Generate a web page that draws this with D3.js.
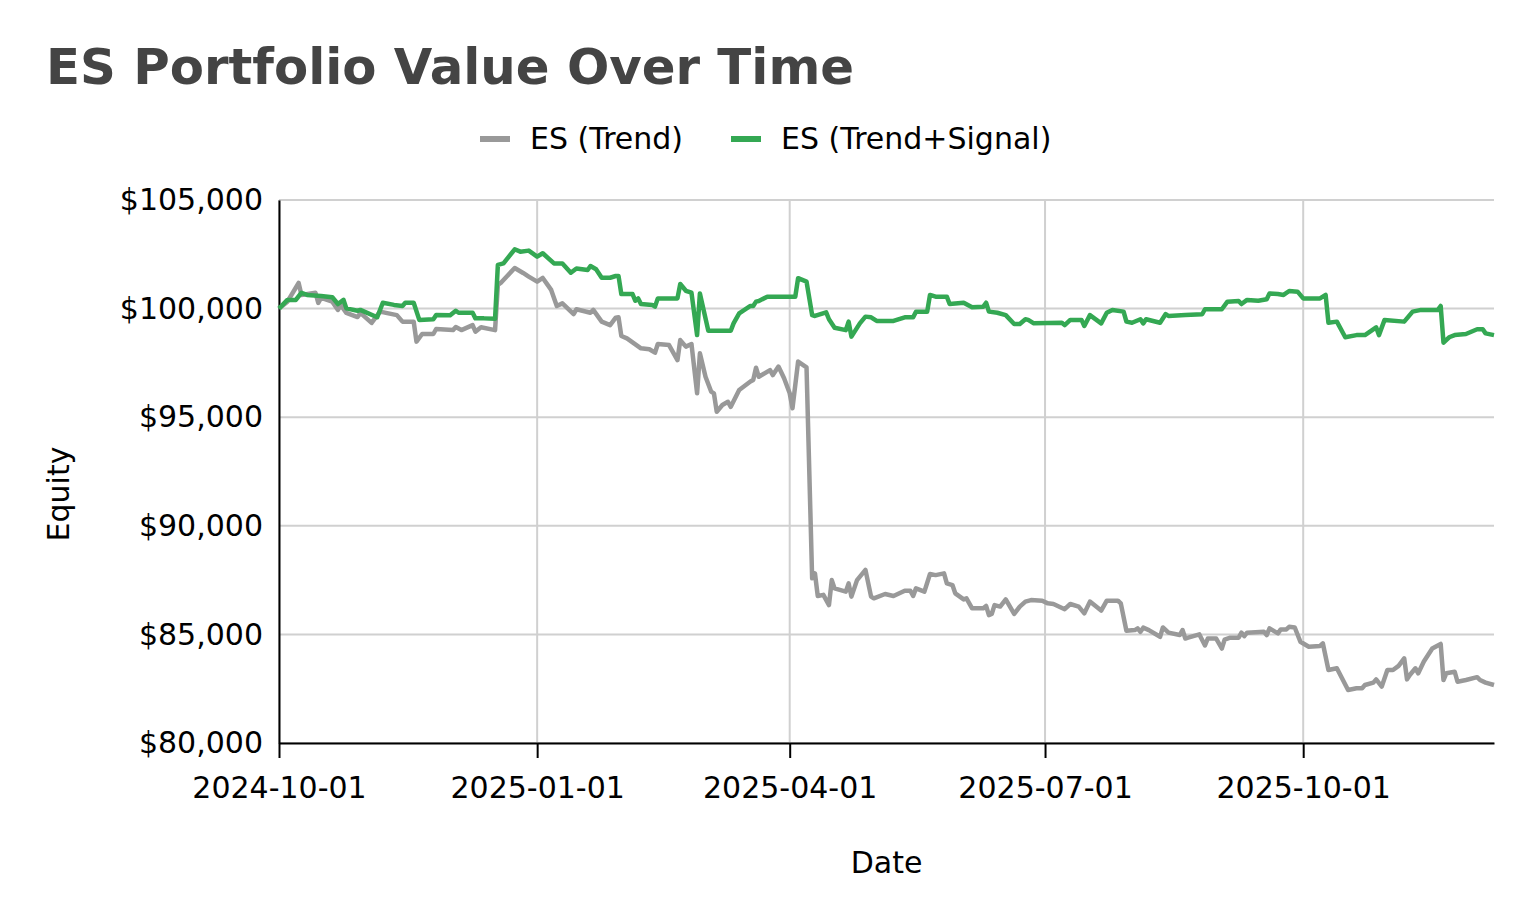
<!DOCTYPE html>
<html>
<head>
<meta charset="utf-8">
<script src="https://cdn.jsdelivr.net/npm/d3@7"></script>
<style>
	body { margin: 0; background: #fff; }
	svg { display: block; font-family: Verdana, "DejaVu Sans", sans-serif; }
</style>
</head>
<body>
<div id="chart"></div>
<script>
// ES (Trend) - dates and equity
const trendDates = [
	"2024-10-01","2024-10-04","2024-10-08","2024-10-09","2024-10-14","2024-10-15","2024-10-16","2024-10-20","2024-10-22","2024-10-23","2024-10-25","2024-10-29","2024-10-30",
	"2024-11-03","2024-11-06","2024-11-12","2024-11-14","2024-11-18","2024-11-19","2024-11-21","2024-11-25","2024-11-26",
	"2024-12-02","2024-12-03","2024-12-05","2024-12-09","2024-12-10","2024-12-12","2024-12-17","2024-12-18","2024-12-19","2024-12-24","2024-12-27","2024-12-29",
	"2025-01-01","2025-01-03","2025-01-06","2025-01-08","2025-01-10","2025-01-14","2025-01-15","2025-01-20","2025-01-21","2025-01-24","2025-01-27","2025-01-29","2025-01-30","2025-01-31",
	"2025-02-02","2025-02-07","2025-02-10","2025-02-12","2025-02-13","2025-02-17","2025-02-20","2025-02-21","2025-02-23","2025-02-25","2025-02-27","2025-02-28",
	"2025-03-02","2025-03-04","2025-03-05","2025-03-06","2025-03-08","2025-03-10","2025-03-11","2025-03-14","2025-03-18","2025-03-19","2025-03-20","2025-03-21","2025-03-25","2025-03-26","2025-03-28","2025-03-30",
	"2025-04-01","2025-04-02","2025-04-04","2025-04-07","2025-04-09","2025-04-10","2025-04-11","2025-04-13","2025-04-15","2025-04-16","2025-04-17","2025-04-21","2025-04-22","2025-04-23","2025-04-25","2025-04-28","2025-04-30",
	"2025-05-01","2025-05-05","2025-05-08","2025-05-12","2025-05-14","2025-05-15","2025-05-16","2025-05-19","2025-05-21","2025-05-23","2025-05-26","2025-05-27","2025-05-29","2025-05-30",
	"2025-06-02","2025-06-03","2025-06-05","2025-06-09","2025-06-10","2025-06-11","2025-06-12","2025-06-13","2025-06-15","2025-06-17","2025-06-20","2025-06-22","2025-06-24","2025-06-26","2025-06-30",
	"2025-07-02","2025-07-04","2025-07-08","2025-07-10","2025-07-13","2025-07-15","2025-07-17","2025-07-21","2025-07-23","2025-07-27","2025-07-28","2025-07-30",
	"2025-08-02","2025-08-03","2025-08-04","2025-08-05","2025-08-07","2025-08-11","2025-08-12","2025-08-14","2025-08-18","2025-08-19","2025-08-20","2025-08-21","2025-08-25","2025-08-27","2025-08-28","2025-08-31",
	"2025-09-02","2025-09-03","2025-09-05","2025-09-08","2025-09-09","2025-09-10","2025-09-11","2025-09-17","2025-09-18","2025-09-19","2025-09-22","2025-09-23","2025-09-25","2025-09-26","2025-09-28","2025-09-30",
	"2025-10-03","2025-10-07","2025-10-08","2025-10-10","2025-10-13","2025-10-17","2025-10-20","2025-10-22","2025-10-23","2025-10-26","2025-10-27","2025-10-29","2025-10-31",
	"2025-11-02","2025-11-04","2025-11-06","2025-11-07","2025-11-08","2025-11-10","2025-11-11","2025-11-13","2025-11-16","2025-11-19","2025-11-20","2025-11-21","2025-11-24","2025-11-25","2025-11-28",
	"2025-12-02","2025-12-03","2025-12-05","2025-12-08"
];
const trendValues = [
	100000,100320,101180,100630,100730,100260,100490,100320,99940,100170,99800,99610,99800,
	99340,99860,99700,99400,99400,98480,98830,98830,99060,
	99010,99150,99010,99240,98940,99140,99010,101090,101180,101870,101640,101470,
	101240,101410,100860,100120,100240,99750,99970,99810,99940,99400,99240,99580,99600,98740,
	98630,98170,98130,97970,98370,98320,97630,98550,98250,98370,96100,97940,
	96860,96180,96100,95250,95560,95710,95480,96250,96640,96710,97280,96860,97170,96940,97330,96790,
	96100,95410,97560,97290,87580,87810,86770,86820,86350,87500,87120,86970,87350,86740,87500,87970,86740,
	86660,86860,86770,87010,87010,86770,87120,86970,87780,87730,87810,87350,87270,86890,
	86610,86660,86200,86200,86310,85890,85940,86350,86280,86610,85940,86280,86510,86580,86550,
	86430,86400,86160,86400,86280,85970,86510,86100,86550,86550,86430,85170,
	85200,85280,85120,85310,85200,84890,85320,85080,84970,85200,84810,84850,85000,84490,84810,84810,
	84350,84760,84850,84850,85080,84920,85080,85120,84970,85280,85050,85230,85230,85350,85320,84660,
	84430,84470,84590,83360,83440,82440,82520,82520,82670,82780,82930,82600,83360,
	83360,83550,83900,82930,83130,83440,83210,83750,84350,84560,82900,83210,83280,82820,82900,
	83030,82900,82780,82670
];

// ES (Trend+Signal) - dates and equity
const signalDates = [
	"2024-10-01","2024-10-04","2024-10-07","2024-10-09","2024-10-11","2024-10-16","2024-10-20","2024-10-22","2024-10-24","2024-10-25","2024-10-29","2024-10-30",
	"2024-11-05","2024-11-07","2024-11-11","2024-11-14","2024-11-15","2024-11-18","2024-11-20","2024-11-25","2024-11-26",
	"2024-12-01","2024-12-03","2024-12-04","2024-12-09","2024-12-10","2024-12-13","2024-12-17","2024-12-18","2024-12-20","2024-12-24","2024-12-26","2024-12-29",
	"2025-01-01","2025-01-03","2025-01-07","2025-01-10","2025-01-13","2025-01-15","2025-01-19","2025-01-20","2025-01-22","2025-01-24","2025-01-27","2025-01-29","2025-01-30","2025-01-31",
	"2025-02-04","2025-02-05","2025-02-06","2025-02-07","2025-02-11","2025-02-12","2025-02-13","2025-02-20","2025-02-21","2025-02-23","2025-02-25","2025-02-27","2025-02-28",
	"2025-03-03","2025-03-11","2025-03-12","2025-03-14","2025-03-18","2025-03-19","2025-03-20","2025-03-21","2025-03-24",
	"2025-04-03","2025-04-04","2025-04-07","2025-04-09","2025-04-10","2025-04-14","2025-04-15","2025-04-17","2025-04-21","2025-04-22","2025-04-23","2025-04-26","2025-04-28","2025-04-30",
	"2025-05-02","2025-05-08","2025-05-12","2025-05-15","2025-05-16","2025-05-20","2025-05-21","2025-05-23","2025-05-27","2025-05-28",
	"2025-06-02","2025-06-05","2025-06-09","2025-06-10","2025-06-11","2025-06-14","2025-06-17","2025-06-20","2025-06-22","2025-06-24","2025-06-25","2025-06-27",
	"2025-07-07","2025-07-08","2025-07-10","2025-07-14","2025-07-15","2025-07-17","2025-07-21","2025-07-23","2025-07-25","2025-07-29","2025-07-30",
	"2025-08-01","2025-08-04","2025-08-05","2025-08-06","2025-08-11","2025-08-13","2025-08-14","2025-08-20","2025-08-26","2025-08-27",
	"2025-09-02","2025-09-04","2025-09-08","2025-09-09","2025-09-11","2025-09-15","2025-09-18","2025-09-19","2025-09-22","2025-09-24","2025-09-26","2025-09-29",
	"2025-10-01","2025-10-07","2025-10-09","2025-10-10","2025-10-13","2025-10-16","2025-10-20","2025-10-23","2025-10-27","2025-10-28","2025-10-30",
	"2025-11-06","2025-11-09","2025-11-12","2025-11-18","2025-11-19","2025-11-20","2025-11-22","2025-11-24","2025-11-28",
	"2025-12-02","2025-12-04","2025-12-05","2025-12-08"
];
const signalValues = [
	100000,100400,100400,100730,100630,100580,100520,100210,100400,100010,99900,99940,
	99600,100270,100170,100120,100270,100270,99480,99510,99700,
	99690,99900,99810,99810,99550,99550,99530,102010,102080,102730,102620,102670,
	102390,102550,102080,102080,101650,101850,101780,101960,101810,101420,101420,101500,101500,100670,
	100670,100360,100470,100210,100170,100090,100470,100470,101130,100820,100730,98780,100700,
	98980,98980,99320,99780,100120,100120,100320,100350,100550,
	100550,101400,101240,99700,99660,99830,99510,99120,99010,99400,98710,99320,99630,99600,
	99430,99430,99600,99600,99860,99860,100630,100550,100550,100210,
	100270,100060,100090,100270,99860,99810,99700,99290,99290,99510,99480,99320,
	99350,99240,99480,99480,99200,99700,99320,99810,99940,99860,99400,
	99350,99510,99320,99510,99350,99750,99660,99700,99740,99970,
	99970,100320,100350,100210,100400,100360,100430,100700,100670,100630,100810,100780,
	100470,100470,100630,99350,99400,98680,98780,98780,99140,98780,99480,
	99400,99860,99940,99940,100120,98430,98680,98780,98830,
	99050,99050,98860,98780
];

const seriesNames = ["ES (Trend)", "ES (Trend+Signal)"];
const seriesColors = ["#999999", "#34a853"];
const xTickLabels = ["2024-10-01", "2025-01-01", "2025-04-01", "2025-07-01", "2025-10-01"];
const yTickValues = [80000, 85000, 90000, 95000, 100000, 105000];

class EquityPlot {
	constructor(targetElementName) {
		this.targetElement = d3.select(`#${targetElementName}`);
		this.parseDate = d3.utcParse("%Y-%m-%d");

		// Zip the parallel arrays into point lists
		this.series = [
			trendDates.map((d, i) => ({ date: this.parseDate(d), value: trendValues[i] })),
			signalDates.map((d, i) => ({ date: this.parseDate(d), value: signalValues[i] }))
		];

		this.initPlot();
		this.drawGrid();
		this.drawAxes();
		this.drawLines();
		this.drawLabels();
	}

	initPlot() {
		this.dimensions = { "width": 1536, "height": 920,
							"left": 279, "right": 1494, "top": 200, "bottom": 743 };

		this.svg = this.targetElement.append("svg")
									 .attr("width", this.dimensions["width"])
									 .attr("height", this.dimensions["height"]);

		const allDates = this.series.flat().map(p => p.date);

		this.x = d3.scaleUtc()
				   .domain(d3.extent(allDates))
				   .range([this.dimensions["left"], this.dimensions["right"]]);

		this.y = d3.scaleLinear()
				   .domain([80000, 105000])
				   .range([this.dimensions["bottom"], this.dimensions["top"]]);
	}

	drawGrid() {
		const dim = this.dimensions;
		const grid = this.svg.append("g").attr("class", "grid");

		grid.selectAll("line.h")
			.data(yTickValues)
			.enter()
			.append("line")
			.attr("x1", dim["left"])
			.attr("x2", dim["right"])
			.attr("y1", v => this.y(v))
			.attr("y2", v => this.y(v))
			.attr("stroke", "#d0d0d0")
			.attr("stroke-width", 2);

		grid.selectAll("line.v")
			.data(xTickLabels.map(this.parseDate))
			.enter()
			.append("line")
			.attr("x1", d => this.x(d))
			.attr("x2", d => this.x(d))
			.attr("y1", dim["top"])
			.attr("y2", dim["bottom"])
			.attr("stroke", "#d0d0d0")
			.attr("stroke-width", 2);
	}

	drawAxes() {
		const dim = this.dimensions;

		// x axis with outside ticks
		const xAxis = d3.axisBottom(this.x)
						.tickValues(xTickLabels.map(this.parseDate))
						.tickFormat(d3.utcFormat("%Y-%m-%d"))
						.tickSizeInner(15)
						.tickSizeOuter(0)
						.tickPadding(19);

		const gx = this.svg.append("g")
						   .attr("transform", `translate(0, ${dim["bottom"]})`)
						   .call(xAxis);
		gx.select(".domain").attr("stroke", "#000").attr("stroke-width", 2);
		gx.selectAll(".tick line").attr("stroke", "#000").attr("stroke-width", 2);
		gx.selectAll(".tick text")
		  .attr("font-size", 30)
		  .attr("font-family", "Verdana, 'DejaVu Sans', sans-serif")
		  .attr("fill", "#000");

		// y axis: line only, labels without ticks
		const yAxis = d3.axisLeft(this.y)
						.tickValues(yTickValues)
						.tickFormat(d3.format("$,"))
						.tickSize(0)
						.tickPadding(16);

		const gy = this.svg.append("g")
						   .attr("transform", `translate(${dim["left"]}, 0)`)
						   .call(yAxis);
		gy.select(".domain").attr("stroke", "#000").attr("stroke-width", 2);
		gy.selectAll(".tick text")
		  .attr("font-size", 30)
		  .attr("font-family", "Verdana, 'DejaVu Sans', sans-serif")
		  .attr("fill", "#000");
	}

	drawLines() {
		const line = d3.line()
					   .x(p => this.x(p.date))
					   .y(p => this.y(p.value));

		this.svg.append("g")
				.attr("class", "lines")
				.selectAll("path")
				.data(this.series)
				.enter()
				.append("path")
				.attr("d", line)
				.attr("fill", "none")
				.attr("stroke", (s, i) => seriesColors[i])
				.attr("stroke-width", 4.5)
				.attr("stroke-linejoin", "round");
	}

	drawLabels() {
		const dim = this.dimensions;

		this.svg.append("text")
				.attr("x", 46)
				.attr("y", 84)
				.attr("font-size", 49.8)
				.attr("font-weight", "bold")
				.attr("fill", "#444")
				.text("ES Portfolio Value Over Time");

		this.svg.append("text")
				.attr("x", (dim["left"] + dim["right"]) / 2)
				.attr("y", 873)
				.attr("text-anchor", "middle")
				.attr("font-size", 30)
				.text("Date");

		this.svg.append("text")
				.attr("transform", "translate(69, 494) rotate(-90)")
				.attr("text-anchor", "middle")
				.attr("font-size", 30)
				.text("Equity");

		// Legend
		const legendX = [480, 731];
		const legend = this.svg.append("g")
							   .selectAll("g")
							   .data(seriesNames)
							   .enter()
							   .append("g")
							   .attr("transform", (n, i) => `translate(${legendX[i]}, 139)`);

		legend.append("line")
			  .attr("x1", 0)
			  .attr("x2", 30)
			  .attr("stroke", (n, i) => seriesColors[i])
			  .attr("stroke-width", 6);

		legend.append("text")
			  .attr("x", 50)
			  .attr("y", 10)
			  .attr("font-size", 30)
			  .text(n => n);
	}
}

new EquityPlot("chart");
</script>
</body>
</html>
